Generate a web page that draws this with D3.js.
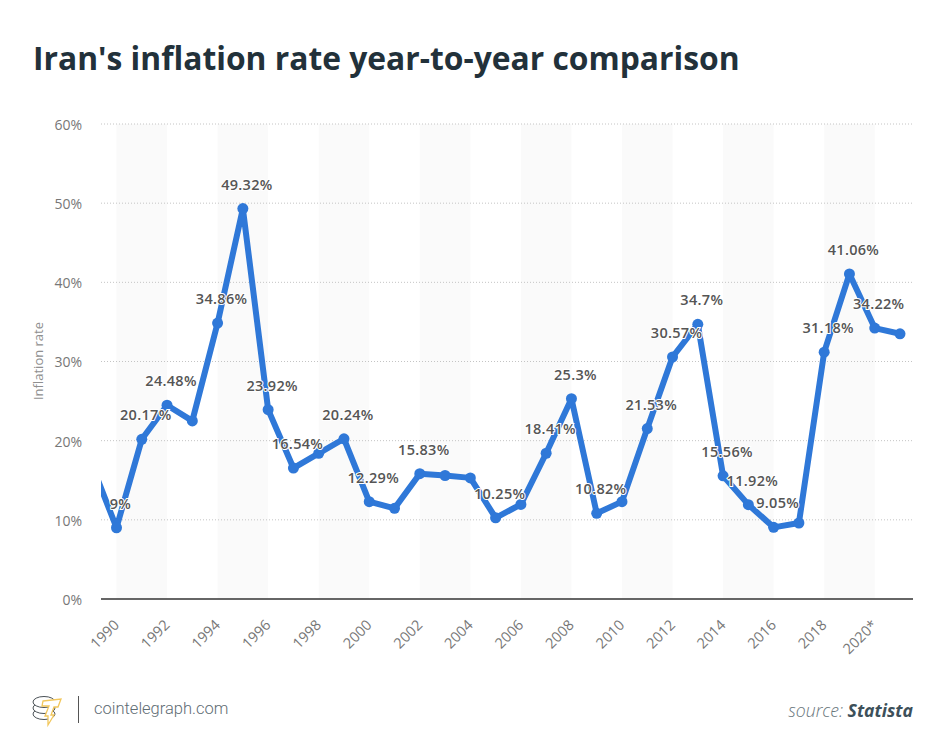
<!DOCTYPE html>
<html>
<head>
<meta charset="utf-8">
<script src="https://cdnjs.cloudflare.com/ajax/libs/d3/7.8.5/d3.min.js"></script>
<style>
  html, body { margin: 0; padding: 0; background: #fff; }
  svg { display: block; }
  text { font-family: "Open Sans", sans-serif; }
</style>
</head>
<body>
<div id="chart"></div>
<script>
var years = [1989, 1990, 1991, 1992, 1993, 1994, 1995, 1996, 1997, 1998, 1999, 2000, 2001, 2002, 2003, 2004, 2005,
    2006, 2007, 2008, 2009, 2010, 2011, 2012, 2013, 2014, 2015, 2016, 2017, 2018, 2019, 2020, 2021];
var rates = [17.2, 9, 20.17, 24.48, 22.5, 34.86, 49.32, 23.92, 16.54, 18.4, 20.24, 12.29, 11.45, 15.83, 15.6, 15.3, 10.25,
    11.95, 18.41, 25.3, 10.82, 12.3, 21.53, 30.57, 34.7, 15.56, 11.92, 9.05, 9.6, 31.18, 41.06, 34.22, 33.5];
// only these years carry a value label in the original
var labeledYears = [1990, 1991, 1992, 1994, 1995, 1996, 1997, 1999, 2000, 2002, 2005, 2007, 2008, 2009, 2011, 2012,
    2013, 2014, 2015, 2016, 2018, 2019, 2020];
var bandYears = [1990, 1994, 1998, 2002, 2006, 2010, 2014, 2018];
var xTickYears = [1990, 1992, 1994, 1996, 1998, 2000, 2002, 2004, 2006, 2008, 2010, 2012, 2014, 2016, 2018, 2020];
var yTicks = [0, 10, 20, 30, 40, 50, 60];

var width = 943, height = 754;
var left = 101, right = 913, top_ = 124, bottom = 599;

var data = years.map(function(y, i) { return { year: y, rate: rates[i] }; });

var x = d3.scaleLinear().domain([1990, 2021]).range([116.5, 900]);
var y = d3.scaleLinear().domain([0, 60]).range([bottom, top_]);

var svg = d3.select('#chart').append('svg').attr('width', width).attr('height', height);

svg.append('clipPath').attr('id', 'plot')
    .append('rect').attr('x', left).attr('y', 0).attr('width', right - left).attr('height', height);

// title
svg.append('text').attr('x', 33).attr('y', 70)
    .style('font-size', '31.8px').style('font-weight', 700).style('fill', '#22313a')
    .text("Iran's inflation rate year-to-year comparison");

// alternating bands
svg.selectAll('.band').data(bandYears).enter().append('rect')
    .attr('class', 'band')
    .attr('x', function(d) { return x(d); })
    .attr('y', top_)
    .attr('width', function(d) { return x(d + 2) - x(d); })
    .attr('height', bottom - top_)
    .style('fill', '#fafafa');

// y axis + dotted grid
var yAxis = svg.append('g').attr('transform', 'translate(' + left + ',1)')
    .call(d3.axisLeft(y).tickValues(yTicks).tickSize(0).tickPadding(19).tickFormat(function(d) { return d + '%'; }));
yAxis.select('.domain').remove();
yAxis.selectAll('text').style('font-size', '14px').style('fill', '#777').style('font-family', '"Open Sans", sans-serif');

svg.selectAll('.grid').data(yTicks.slice(1)).enter().append('line')
    .attr('class', 'grid')
    .attr('x1', left).attr('x2', right)
    .attr('y1', function(d) { return y(d); })
    .attr('y2', function(d) { return y(d); })
    .style('stroke', '#c4c4c4').style('stroke-width', 1).style('stroke-dasharray', '1,2');

// x axis
var xAxis = svg.append('g').attr('transform', 'translate(0,' + bottom + ')')
    .call(d3.axisBottom(x).tickValues(xTickYears).tickSize(0).tickFormat(function(d) {
        return d == 2020 ? '2020*' : d;
    }));
xAxis.select('.domain').remove();
xAxis.selectAll('text')
    .attr('text-anchor', 'end')
    .attr('dy', 0).attr('y', 0).attr('x', 0)
    .attr('transform', 'translate(3,27) rotate(-45)')
    .style('font-size', '14.5px').style('fill', '#777').style('font-family', '"Open Sans", sans-serif');

svg.append('line')
    .attr('x1', left).attr('x2', right).attr('y1', bottom).attr('y2', bottom)
    .style('stroke', '#333').style('stroke-width', 1.5);

svg.append('text')
    .attr('transform', 'translate(43,361) rotate(-90)')
    .attr('text-anchor', 'middle')
    .style('font-size', '13px').style('fill', '#8f8f8f')
    .text('Inflation rate');

// line and points
var line = d3.line().x(function(d) { return x(d.year); }).y(function(d) { return y(d.rate); });

var marks = svg.append('g').attr('clip-path', 'url(#plot)');
marks.append('path').datum(data).attr('d', line)
    .style('fill', 'none').style('stroke', '#2f78d8').style('stroke-width', 6).style('stroke-linejoin', 'round');
marks.selectAll('circle').data(data.slice(1)).enter().append('circle')
    .attr('cx', function(d) { return x(d.year); })
    .attr('cy', function(d) { return y(d.rate); })
    .attr('r', 5.5)
    .style('fill', '#2f78d8');

// value labels
svg.selectAll('.value').data(data.filter(function(d) { return labeledYears.indexOf(d.year) >= 0; }))
    .enter().append('text')
    .attr('class', 'value')
    .attr('x', function(d) { return x(d.year) + 4; })
    .attr('y', function(d) { return y(d.rate) - 19; })
    .attr('text-anchor', 'middle')
    .style('font-size', '14.5px').style('font-weight', 600).style('letter-spacing', '0.3px')
    .style('fill', '#555').style('stroke', '#fff').style('stroke-width', 2).style('paint-order', 'stroke')
    .text(function(d) { return d.rate + '%'; });

// footer logo
var logo = svg.append('g').attr('transform', 'translate(33,696)');
[18, 12, 6].forEach(function(cy) {
    logo.append('ellipse').attr('cx', 11).attr('cy', cy).attr('rx', 11).attr('ry', 5.5)
        .style('fill', '#fff').style('stroke', '#4b5257').style('stroke-width', 1);
});
logo.append('path')
    .attr('d', 'M10 5 L28 3 L25 11 L21 11 L18 19 L21 19 L15 29 L15 20 L12 20 L16 10 L9 10 Z')
    .style('fill', '#fff').style('stroke', '#f2c75c').style('stroke-width', 1.3);

svg.append('line').attr('x1', 78.5).attr('x2', 78.5).attr('y1', 696).attr('y2', 723)
    .style('stroke', '#555').style('stroke-width', 1);

svg.append('text').attr('x', 94).attr('y', 714)
    .style('font-family', 'Roboto, sans-serif').style('font-weight', 300)
    .style('font-size', '16.5px').style('fill', '#5f6d74')
    .text('cointelegraph.com');

var source = svg.append('text').attr('x', 913).attr('y', 717).attr('text-anchor', 'end')
    .style('font-size', '17.6px').style('font-style', 'italic');
source.append('tspan').style('font-weight', 300).style('fill', '#69767c').text('source: ');
source.append('tspan').style('font-weight', 700).style('fill', '#3d505a').text('Statista');
</script>
</body>
</html>
